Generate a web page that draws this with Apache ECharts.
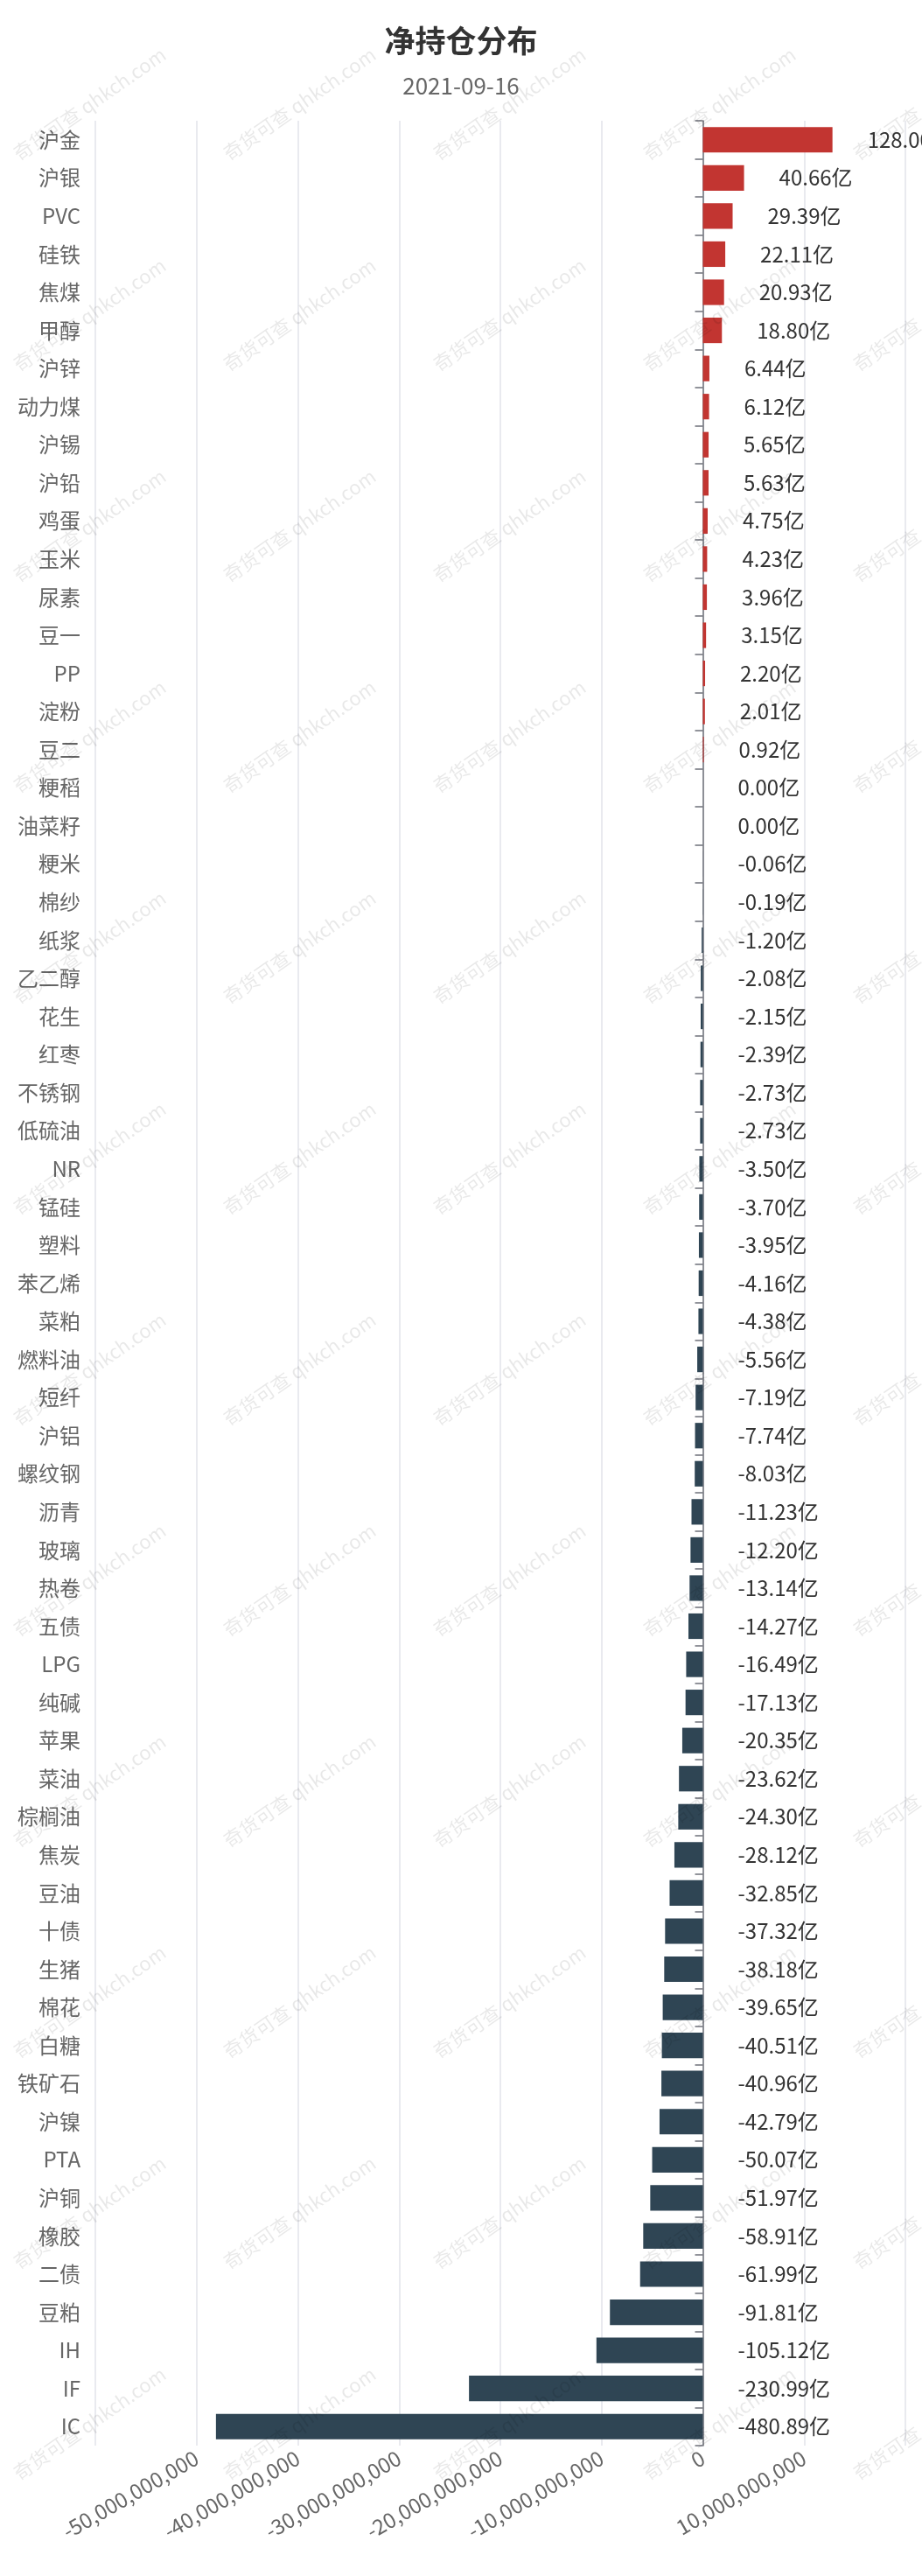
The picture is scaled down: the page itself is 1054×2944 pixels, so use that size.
<!DOCTYPE html>
<html>
<head>
<meta charset="utf-8">
<script src="https://cdn.jsdelivr.net/npm/echarts@6/dist/echarts.min.js"></script>
<style>
html,body{margin:0;padding:0;background:#fff;}
#main{width:1054px;height:2944px;}
</style>
</head>
<body>
<div id="main"></div>
<script>
const titleText = '净持仓分布';
const dateText = '2021-09-16';
const categories = ['沪金','沪银','PVC','硅铁','焦煤','甲醇','沪锌','动力煤','沪锡','沪铅','鸡蛋','玉米','尿素','豆一','PP','淀粉','豆二','粳稻','油菜籽','粳米','棉纱','纸浆','乙二醇','花生','红枣','不锈钢','低硫油','NR','锰硅','塑料','苯乙烯','菜粕','燃料油','短纤','沪铝','螺纹钢','沥青','玻璃','热卷','五债','LPG','纯碱','苹果','菜油','棕榈油','焦炭','豆油','十债','生猪','棉花','白糖','铁矿石','沪镍','PTA','沪铜','橡胶','二债','豆粕','IH','IF','IC'];
// net position in 亿 (1e8 yuan)
const netYi = [128.0,40.66,29.39,22.11,20.93,18.80,6.44,6.12,5.65,5.63,4.75,4.23,3.96,3.15,2.20,2.01,0.92,0.00,0.00,-0.06,-0.19,-1.20,-2.08,-2.15,-2.39,-2.73,-2.73,-3.50,-3.70,-3.95,-4.16,-4.38,-5.56,-7.19,-7.74,-8.03,-11.23,-12.20,-13.14,-14.27,-16.49,-17.13,-20.35,-23.62,-24.30,-28.12,-32.85,-37.32,-38.18,-39.65,-40.51,-40.96,-42.79,-50.07,-51.97,-58.91,-61.99,-91.81,-105.12,-230.99,-480.89];
const axisMin = -60000000000;
const axisMax = 20000000000;
const axisStep = 10000000000;
const YI = 100000000;
const posColor = '#c23531';
const negColor = '#2f4554';
const font = '"Microsoft YaHei","Noto Sans CJK SC","Noto Sans",sans-serif';

const chart = echarts.init(document.getElementById('main'), null, {renderer:'canvas'});

const watermarks = [];
for (let r = -1; r <= 12; r++) {
  for (let c = 0; c < 5; c++) {
    watermarks.push({
      type: 'text', silent: true, z: 100,
      x: 24 + 240 * c, y: 187 + 241 * r,
      rotation: 35 * Math.PI / 180,
      style: {
        text: '奇货可查 qhkch.com',
        fill: 'rgba(0,0,0,0.09)',
        font: '22px ' + font,
        align: 'left', verticalAlign: 'bottom'
      }
    });
  }
}

chart.setOption({
  animation: false,
  backgroundColor: '#fff',
  title: [
    {text: titleText, left: 'center', top: 24,
     textStyle: {fontSize: 35, fontWeight: 'bold', color: '#333', fontFamily: font}},
    {text: dateText, left: 'center', top: 80,
     textStyle: {fontSize: 26, fontWeight: 'normal', color: '#666', fontFamily: font}}
  ],
  graphic: watermarks,
  grid: {left: 109, right: 19, top: 138, bottom: 149, containLabel: false},
  xAxis: {
    type: 'value', min: axisMin, max: axisMax, interval: axisStep,
    axisLine: {show: false}, axisTick: {show: false},
    splitLine: {show: true, lineStyle: {color: '#e2e3ea', width: 1.5}},
    axisLabel: {
      rotate: 30, margin: 12, fontSize: 24, color: '#666', fontFamily: font,
      showMinLabel: false, showMaxLabel: false,
      formatter: v => Number(v).toLocaleString('en-US')
    }
  },
  yAxis: [
    {
      type: 'category', data: categories, inverse: true,
      axisLine: {show: true, onZero: true, lineStyle: {color: '#6e7079', width: 1.5}},
      axisTick: {show: true, length: 9, lineStyle: {color: '#6e7079', width: 1.5}},
      axisLabel: {show: false},
      splitLine: {show: false}
    },
    {
      type: 'category', data: categories, inverse: true, position: 'left',
      axisLine: {show: false, onZero: false},
      axisTick: {show: false},
      axisLabel: {show: true, fontSize: 24, color: '#666', margin: 17, fontFamily: font},
      splitLine: {show: false}
    }
  ],
  series: [{
    type: 'bar',
    yAxisIndex: 0,
    barCategoryGap: '33%',
    data: netYi.map(v => ({
      value: v * YI,
      itemStyle: {color: v >= 0 ? posColor : negColor}
    })),
    label: {
      show: true, position: 'right', distance: 40,
      fontSize: 24, color: '#333', fontFamily: font,
      formatter: p => (p.value / YI).toFixed(2) + '亿'
    }
  }]
});
</script>
</body>
</html>
